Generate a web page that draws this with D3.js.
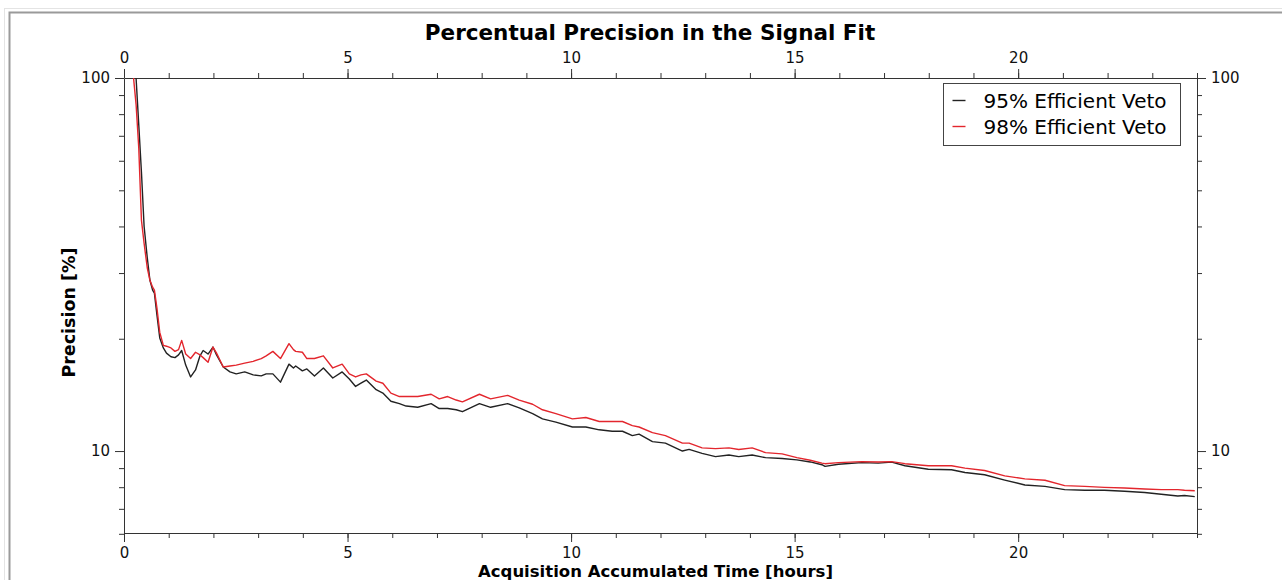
<!DOCTYPE html>
<html>
<head>
<meta charset="utf-8">
<script src="https://cdn.jsdelivr.net/npm/d3@7"></script>
<style>
  body { margin: 0; background: #fff; }
  svg { font-family: "DejaVu Sans", sans-serif; }
  .tick text { fill: #111; }
  .axis path, .axis line { stroke: #333; }
</style>
</head>
<body>
<svg id="chart"></svg>
<script>
// time axis (hours)
const times = [0.2, 0.27, 0.33, 0.39, 0.45, 0.52, 0.58, 0.64, 0.68, 0.74, 0.8, 0.88, 0.95, 1.05, 1.14, 1.22, 1.29, 1.38, 1.49, 1.6,
  1.7, 1.77, 1.88, 1.99, 2.07, 2.22, 2.37, 2.51, 2.7, 2.89, 3.07, 3.18, 3.33, 3.5, 3.69, 3.79, 3.84, 3.99, 4.09, 4.26,
  4.46, 4.67, 4.88, 5.04, 5.18, 5.3, 5.42, 5.64, 5.79, 5.97, 6.16, 6.31, 6.57, 6.87, 7.05, 7.24, 7.43, 7.57, 7.95, 8.2,
  8.58, 8.84, 9.14, 9.36, 9.66, 10.03, 10.33, 10.63, 10.92, 11.15, 11.37, 11.52, 11.82, 12.11, 12.49, 12.64, 12.93, 13.23, 13.53, 13.75,
  14.05, 14.35, 14.72, 15.05, 15.35, 15.61, 15.68, 15.98, 16.5, 16.87, 17.17, 17.47, 17.99, 18.51, 18.81, 19.25, 19.7, 20.15, 20.6, 21.04,
  21.49, 21.93, 22.38, 22.83, 23.2, 23.57, 23.72, 23.95];

// 95% efficient veto
const veto95 = [140, 100, 75, 56, 40, 33, 28.7, 27, 26.5, 23, 20.1, 18.9, 18.3, 17.9, 17.8, 18.1, 18.6, 17.0, 15.8, 16.5,
  18.0, 18.6, 18.2, 19.0, 18.1, 16.8, 16.3, 16.1, 16.3, 16.0, 15.9, 16.1, 16.1, 15.3, 17.1, 16.7, 16.9, 16.4, 16.6, 15.9,
  16.7, 15.7, 16.3, 15.6, 14.9, 15.2, 15.5, 14.6, 14.3, 13.6, 13.4, 13.2, 13.1, 13.4, 13.0, 13.0, 12.9, 12.75, 13.4, 13.1,
  13.4, 13.05, 12.6, 12.2, 11.95, 11.6, 11.6, 11.4, 11.3, 11.3, 11.0, 11.1, 10.6, 10.5, 10.0, 10.1, 9.86, 9.66, 9.76, 9.66,
  9.76, 9.6, 9.55, 9.47, 9.35, 9.19, 9.1, 9.22, 9.31, 9.28, 9.34, 9.13, 8.94, 8.91, 8.76, 8.64, 8.36, 8.11, 8.04, 7.88,
  7.85, 7.85, 7.8, 7.74, 7.66, 7.58, 7.6, 7.55];

// 98% efficient veto
const veto98 = [104, 85, 65, 41.6, 36, 31, 28.7, 27.5, 27, 24, 20.8, 19.2, 19.1, 18.9, 18.5, 18.7, 19.8, 18.2, 17.7, 18.4,
  18.1, 17.8, 17.3, 19.0, 18.3, 16.8, 16.9, 17.0, 17.2, 17.4, 17.7, 18.0, 18.5, 17.7, 19.4, 18.7, 18.5, 18.4, 17.7, 17.7,
  18.0, 16.7, 17.1, 16.1, 15.8, 16.0, 16.1, 15.4, 15.2, 14.3, 14.0, 14.0, 14.0, 14.2, 13.8, 14.0, 13.7, 13.55, 14.2, 13.8,
  14.1, 13.7, 13.35, 12.9, 12.6, 12.2, 12.3, 12.0, 12.0, 12.0, 11.7, 11.6, 11.2, 11.0, 10.5, 10.5, 10.2, 10.15, 10.2, 10.1,
  10.2, 9.9, 9.83, 9.6, 9.45, 9.28, 9.25, 9.31, 9.37, 9.35, 9.37, 9.25, 9.13, 9.13, 9.0, 8.87, 8.58, 8.42, 8.35, 8.08,
  8.04, 7.99, 7.96, 7.91, 7.88, 7.88, 7.85, 7.83];

const seriesNames = ['95% Efficient Veto', '98% Efficient Veto'];
const xMajorTicks = [0, 5, 10, 15, 20];
const yMajorTicks = [10, 100];
const yMinorTicks = [6, 7, 8, 9, 20, 30, 40, 50, 60, 70, 80, 90];

const config = {
  width: 1282,
  height: 580,
  margin: {top: 78, right: 85, bottom: 47, left: 124},
  colors: ['#222222', '#e3262d']
};

const svg = d3.select('#chart')
  .attr('width', config.width)
  .attr('height', config.height);

// panel frame
svg.append('line').attr('x1', 4).attr('x2', config.width).attr('y1', 8.5).attr('y2', 8.5)
  .attr('stroke', '#e4e4e4');
svg.append('line').attr('x1', 4.5).attr('x2', 4.5).attr('y1', 8).attr('y2', config.height)
  .attr('stroke', '#e4e4e4');
svg.append('rect').attr('x', 9.5).attr('y', 12.5)
  .attr('width', config.width).attr('height', config.height)
  .attr('fill', '#fff').attr('stroke', '#9a9a9a').attr('stroke-width', 2);

const width = config.width - config.margin.left - config.margin.right;
const height = config.height - config.margin.top - config.margin.bottom;

const chart = svg.append('g')
  .attr('transform', `translate(${config.margin.left},${config.margin.top})`);

const xScale = d3.scaleLinear().domain([0, 24]).range([0, width]);
const yScale = d3.scaleLog().domain([6.03, 100]).range([height, 0]);

// axes: majors with labels, minors without
function addAxis(axisFn, scale, majors, minors, transform, pad) {
  const g = chart.append('g').attr('class', 'axis').attr('transform', transform);
  g.call(axisFn(scale).tickValues(minors).tickSize(5).tickSizeOuter(0).tickFormat(''));
  const gm = chart.append('g').attr('class', 'axis').attr('transform', transform);
  gm.call(axisFn(scale).tickValues(majors).tickSize(9).tickSizeOuter(0).tickFormat(d3.format('d')).tickPadding(pad));
  gm.select('.domain').remove();
  gm.selectAll('.tick text').attr('font-size', 15).attr('font-family', '"DejaVu Sans"');
  return gm;
}

const xMinor = d3.range(0, 25, 1);
addAxis(d3.axisBottom, xScale, xMajorTicks, xMinor, `translate(0,${height})`, 5);
addAxis(d3.axisTop, xScale, xMajorTicks, xMinor, 'translate(0,0)', 6);
addAxis(d3.axisLeft, yScale, yMajorTicks, yMinorTicks, 'translate(0,0)', 5);
addAxis(d3.axisRight, yScale, yMajorTicks, yMinorTicks, `translate(${width},0)`, 5);

// clip lines to plot area
svg.append('defs').append('clipPath').attr('id', 'plot-clip')
  .append('rect').attr('width', width).attr('height', height);

const line = d3.line()
  .x(d => xScale(d[0]))
  .y(d => yScale(d[1]));

[veto95, veto98].forEach((vals, i) => {
  chart.append('path')
    .datum(times.map((t, j) => [t, vals[j]]))
    .attr('clip-path', 'url(#plot-clip)')
    .attr('fill', 'none')
    .attr('stroke', config.colors[i])
    .attr('stroke-width', 1.4)
    .attr('stroke-linejoin', 'round')
    .attr('d', line);
});

// title and axis labels
svg.append('text')
  .attr('x', 650)
  .attr('y', 40)
  .attr('text-anchor', 'middle')
  .attr('font-weight', 'bold')
  .attr('font-size', 21.5)
  .text('Percentual Precision in the Signal Fit');

svg.append('text')
  .attr('x', config.margin.left + width / 2 - 5)
  .attr('y', 577)
  .attr('text-anchor', 'middle')
  .attr('font-weight', 'bold')
  .attr('font-size', 16.5)
  .text('Acquisition Accumulated Time [hours]');

svg.append('text')
  .attr('transform', `translate(75,${config.margin.top + height / 2 + 7}) rotate(-90)`)
  .attr('text-anchor', 'middle')
  .attr('font-weight', 'bold')
  .attr('font-size', 17.5)
  .text('Precision [%]');

// legend
const legend = svg.append('g').attr('transform', 'translate(943.5,83.5)');
legend.append('rect')
  .attr('width', 237).attr('height', 62)
  .attr('fill', '#fff').attr('stroke', '#444');

seriesNames.forEach((name, i) => {
  const row = legend.append('g').attr('transform', `translate(0,${17 + i * 26})`);
  row.append('line')
    .attr('x1', 9).attr('x2', 22)
    .attr('stroke', config.colors[i]).attr('stroke-width', 1.4);
  row.append('text')
    .attr('x', 40)
    .attr('dy', '0.35em')
    .attr('font-size', 20)
    .text(name);
});
</script>
</body>
</html>
